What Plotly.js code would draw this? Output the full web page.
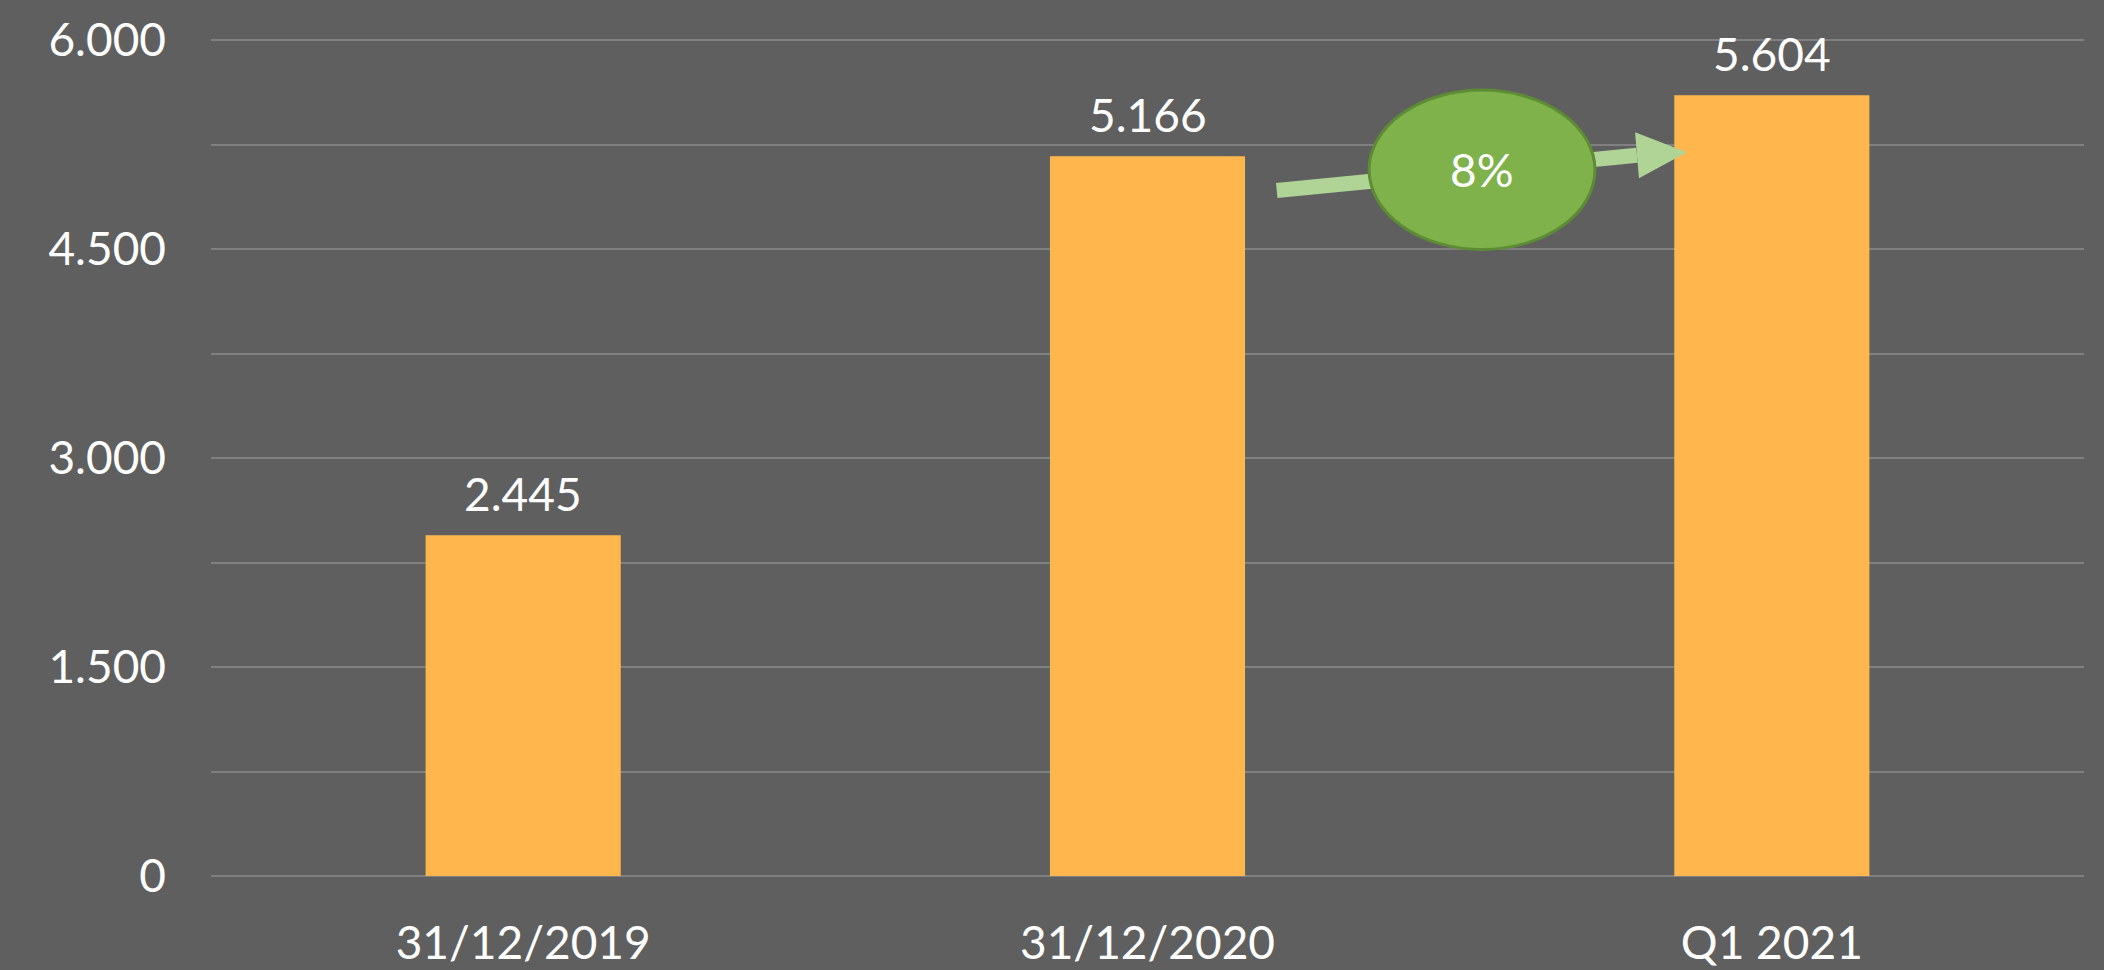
<!DOCTYPE html>
<html>
<head>
<meta charset="utf-8">
<script src="https://cdn.plot.ly/plotly-3.0.1.min.js"></script>
<style>
html,body{margin:0;padding:0;background:#5f5f5f;}
#chart{width:2104px;height:970px;}
</style>
</head>
<body>
<div id="chart"></div>
<script>
const categories = ['31/12/2019', '31/12/2020', 'Q1 2021'];
const values = [2445, 5166, 5604];
const yTickValues = [0, 1500, 3000, 4500, 6000];

const fmt = v => String(Math.round(v)).replace(/\B(?=(\d{3})+(?!\d))/g, '.');
const growth = Math.round((values[2] - values[1]) / values[1] * 100) + '%';

const FONT = 'Lato, "Liberation Sans", sans-serif';
const WHITE = '#ffffff';

const trace = {
  type: 'bar',
  x: categories,
  y: values,
  marker: {color: '#ffb74d', line: {width: 0}},
  hoverinfo: 'none',
  cliponaxis: false
};

const labelAnnotations = categories.map((c, i) => ({
  x: c, y: values[i], xref: 'x', yref: 'y',
  text: fmt(values[i]), showarrow: false,
  yanchor: 'bottom', yshift: 12,
  font: {family: FONT, size: 46, color: WHITE}
}));

// decorative growth marker (paper coordinates)
const tip = [0.7880, 0.8636];
const shapes = [
  {type: 'line', xref: 'paper', yref: 'paper', x0: 0.569, y0: 0.818, x1: 0.7613, y1: 0.8600,
   line: {color: '#b0d396', width: 15}, layer: 'above'},
  {type: 'path', xref: 'paper', yref: 'paper',
   path: 'M ' + tip[0] + ' ' + tip[1] + ' L 0.7624 0.8325 L 0.7603 0.8876 Z',
   fillcolor: '#b0d396', line: {width: 0}, layer: 'above'},
  {type: 'circle', xref: 'paper', yref: 'paper', x0: 0.6183, x1: 0.7389, y0: 0.7476, y1: 0.9378,
   fillcolor: '#7fb24b', line: {color: '#5d8c35', width: 3}, layer: 'above'}
];

const layout = {
  width: 2104, height: 970,
  paper_bgcolor: '#5f5f5f', plot_bgcolor: '#5f5f5f',
  margin: {l: 211, r: 20, t: 38, b: 94},
  bargap: 0.6875,
  showlegend: false,
  separators: ',.',
  font: {family: FONT, size: 46, color: WHITE},
  xaxis: {
    type: 'category',
    showgrid: false, zeroline: false, showline: false, ticks: '',
    ticklabelstandoff: 36,
    tickfont: {family: FONT, size: 46, color: WHITE}
  },
  yaxis: {
    range: [0, 6015], tickvals: yTickValues, ticktext: yTickValues.map(fmt),
    showgrid: true, gridcolor: '#808080', gridwidth: 2,
    minor: {dtick: 750, showgrid: true, gridcolor: '#808080', gridwidth: 2},
    zeroline: true, zerolinecolor: '#808080', zerolinewidth: 2,
    showline: false, ticks: '',
    ticklabelstandoff: 44,
    tickfont: {family: FONT, size: 46, color: WHITE}
  },
  shapes: shapes,
  annotations: labelAnnotations.concat([{
    xref: 'paper', yref: 'paper', x: 0.6786, y: 0.8427,
    text: growth, showarrow: false, xanchor: 'center', yanchor: 'middle',
    font: {family: FONT, size: 46, color: WHITE}
  }])
};

Plotly.newPlot('chart', [trace], layout, {displayModeBar: false, staticPlot: true});
</script>
</body>
</html>
